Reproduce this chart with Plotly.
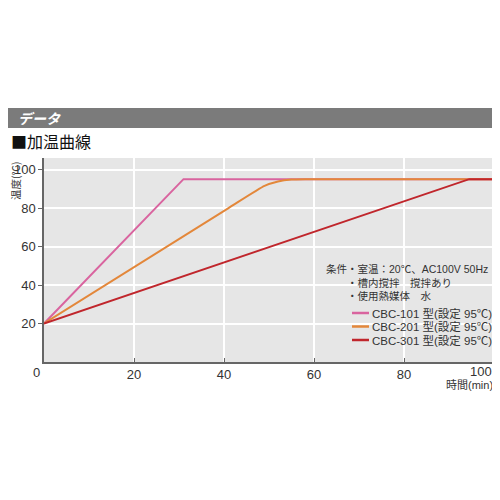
import plotly.graph_objects as go

# heating curves (time in min, temperature in deg C)
models = ["CBC-101 型(設定 95℃)", "CBC-201 型(設定 95℃)", "CBC-301 型(設定 95℃)"]
colors = ["#d9649f", "#e3873a", "#c0262c"]

t_101 = [0, 31, 100]
temp_101 = [20, 95, 95]

t_201 = [0, 41, 49, 52, 55, 58, 100]
temp_201 = [20, 80, 91.5, 93.8, 94.8, 95, 95]

t_301 = [0, 94.5, 100]
temp_301 = [20, 95, 95]

x_ticks = [20, 40, 60, 80, 100]
y_ticks = [20, 40, 60, 80, 100]

conditions = "条件・室温：20℃、AC100V 50Hz<br>　　・槽内撹拌　撹拌あり<br>　　・使用熱媒体　水"

font_main = "Liberation Sans, Noto Sans CJK JP, sans-serif"
font_jp = "Noto Sans CJK JP, sans-serif"


# page pixel -> paper coords (plot area spans x 44..494, y 158..362 on the page)
def px(x):
    return (x - 44) / 450


def py(y):
    return (362 - y) / 204


fig = go.Figure()
shapes = ["linear", "spline", "linear"]
for t, temp, name, c, s in zip([t_101, t_201, t_301], [temp_101, temp_201, temp_301],
                               models, colors, shapes):
    fig.add_trace(go.Scatter(x=t, y=temp, mode="lines", name=name,
                             line=dict(color=c, width=2, shape=s, smoothing=0.5),
                             showlegend=False))

# page body has an 8px margin, so the figure is 492 wide and shifted
fig.update_layout(
    width=492, height=492,
    margin=dict(l=36, r=6, t=150, b=138),
    paper_bgcolor="white",
    plot_bgcolor="#e6e6e6",
    font=dict(family=font_main, size=13, color="#333"),
)
fig.update_xaxes(
    range=[0, 100], tickvals=x_ticks,
    ticktext=[str(v) for v in x_ticks[:-1]] + [""],
    showgrid=True, gridcolor="white", gridwidth=1.5,
    showline=True, linecolor="#666", linewidth=1.5,
    ticks="inside", ticklen=4, tickcolor="#666", zeroline=False,
)
fig.update_yaxes(
    range=[0, 106], tickvals=y_ticks,
    showgrid=True, gridcolor="white", gridwidth=1.5,
    showline=True, linecolor="#666", linewidth=1.5,
    ticks="outside", ticklen=4, tickcolor="#666", zeroline=False,
)

# header bar and title
fig.add_shape(type="rect", xref="paper", yref="paper", x0=px(4), x1=px(497),
              y0=py(128), y1=py(108),
              fillcolor="#7b7b7b", line=dict(width=0), layer="below")
fig.add_annotation(xref="paper", yref="paper", x=px(16), y=py(118),
                   xanchor="left", yanchor="middle", showarrow=False,
                   text="<b><i>データ</i></b>", font=dict(family=font_jp, size=14, color="white"))
fig.add_annotation(xref="paper", yref="paper", x=px(9), y=py(141),
                   xanchor="left", yanchor="middle", showarrow=False,
                   text="■加温曲線", font=dict(family=font_jp, size=16, color="#111"))

# axis labels
fig.add_annotation(xref="paper", yref="paper", x=px(15), y=py(181),
                   textangle=-90, showarrow=False, xanchor="center", yanchor="middle",
                   text="温度(℃)", font=dict(family=font_jp, size=10.5, color="#333"))
fig.add_annotation(xref="paper", yref="paper", x=px(495), y=py(385),
                   xanchor="right", yanchor="middle", showarrow=False,
                   text="時間(min)", font=dict(family=font_main, size=11, color="#333"))
fig.add_annotation(xref="paper", yref="paper", x=px(36), y=py(372),
                   xanchor="center", yanchor="middle", showarrow=False, text="0")
fig.add_annotation(xref="x", yref="paper", x=100, y=py(371),
                   xanchor="right", yanchor="middle", showarrow=False, text="100")

# conditions text
fig.add_annotation(xref="paper", yref="paper", x=px(324), y=py(282),
                   xanchor="left", yanchor="middle", showarrow=False, align="left",
                   text=conditions, font=dict(family=font_main, size=10.5, color="#333"))

# legend
for i, (name, c) in enumerate(zip(models, colors)):
    yy = py(313 + 13.5 * i)
    fig.add_shape(type="line", xref="paper", yref="paper", x0=px(352), x1=px(369),
                  y0=yy, y1=yy, line=dict(color=c, width=2.5))
    fig.add_annotation(xref="paper", yref="paper", x=px(370), y=yy,
                       xanchor="left", yanchor="middle", showarrow=False,
                       text=name, font=dict(family=font_main, size=11.5, color="#333"))

fig.write_html("out.html")
